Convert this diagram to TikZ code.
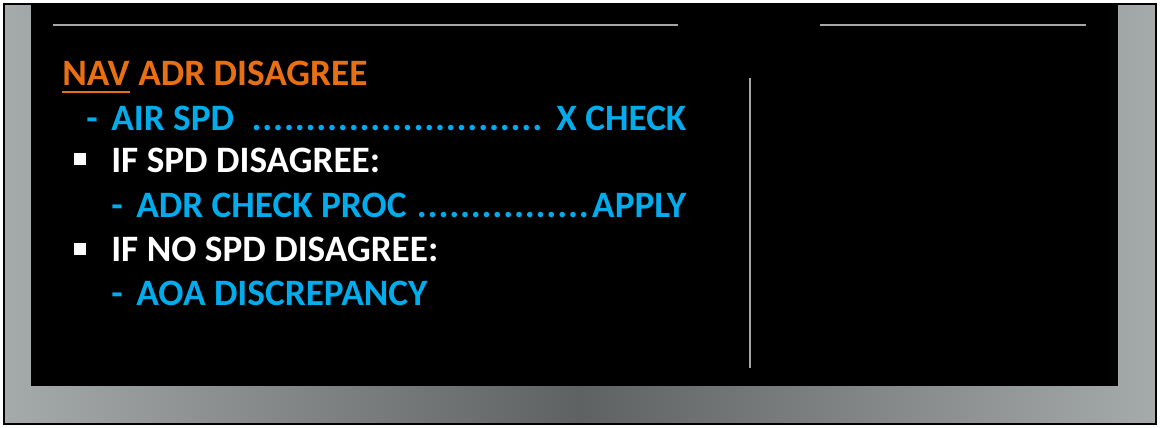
\documentclass[tikz,border=0pt]{standalone}
\usepackage{fontspec}
\setmainfont{Carlito}
\definecolor{ecamorange}{RGB}{232,112,20}
\definecolor{ecamcyan}{RGB}{0,172,236}
\definecolor{bezel}{RGB}{165,170,170}
\definecolor{bezeldark}{RGB}{95,98,98}
\begin{document}
\begin{tikzpicture}[x=0.025cm, y=-0.025cm,
  line/.style={inner sep=0pt, anchor=base west, font=\fontsize{26.5}{30}\selectfont\bfseries},
  ruler/.style={draw=gray!70, line width=1.5pt}]
\useasboundingbox (0,0) rectangle (1160,428);
% frame
\shade[left color=bezel, right color=bezel, middle color=bezeldark] (4,4) rectangle (1156,424);
\draw[line width=1.5pt] (4,4) rectangle (1156,424);
\fill[black] (31,5) rectangle (1118,386);
% rulers
\draw[ruler] (53,25) -- (678,25);
\draw[ruler] (820,25) -- (1086,25);
\draw[ruler] (750,78) -- (750,368);
% text
\node[line, text=ecamorange] (nav) at (62,85) {NAV};
\node[line, text=ecamorange] (title) at (138,85) {ADR DISAGREE};
\draw[ecamorange, line width=1.5pt] (62,92) -- (nav.base east |- 0,92);
\node[line, text=ecamcyan] (dash1) at (86,130) {-};
\node[line, text=ecamcyan] (airspd) at (111,130)
  {\hbox to 14.375cm{AIR SPD \leaders\hbox{.\kern0.6pt}\hfill{} X CHECK}};
\node[fill=white, minimum size=9pt, inner sep=0pt] (sq1) at (80,159) {};
\node[line, text=white] (ifspd) at (111,172) {IF SPD DISAGREE:};
\node[line, text=ecamcyan] (dash2) at (111,217) {-};
\node[line, text=ecamcyan] (adr) at (136,217)
  {\hbox to 13.75cm{ADR CHECK PROC\leaders\hbox{.\kern0.6pt}\hfill APPLY}};
\node[fill=white, minimum size=9pt, inner sep=0pt] (sq2) at (80,249) {};
\node[line, text=white] (ifno) at (111,261) {IF NO SPD DISAGREE:};
\node[line, text=ecamcyan] (dash3) at (111,305) {-};
\node[line, text=ecamcyan] (aoa) at (136,305) {AOA DISCREPANCY};
\end{tikzpicture}
\end{document}
